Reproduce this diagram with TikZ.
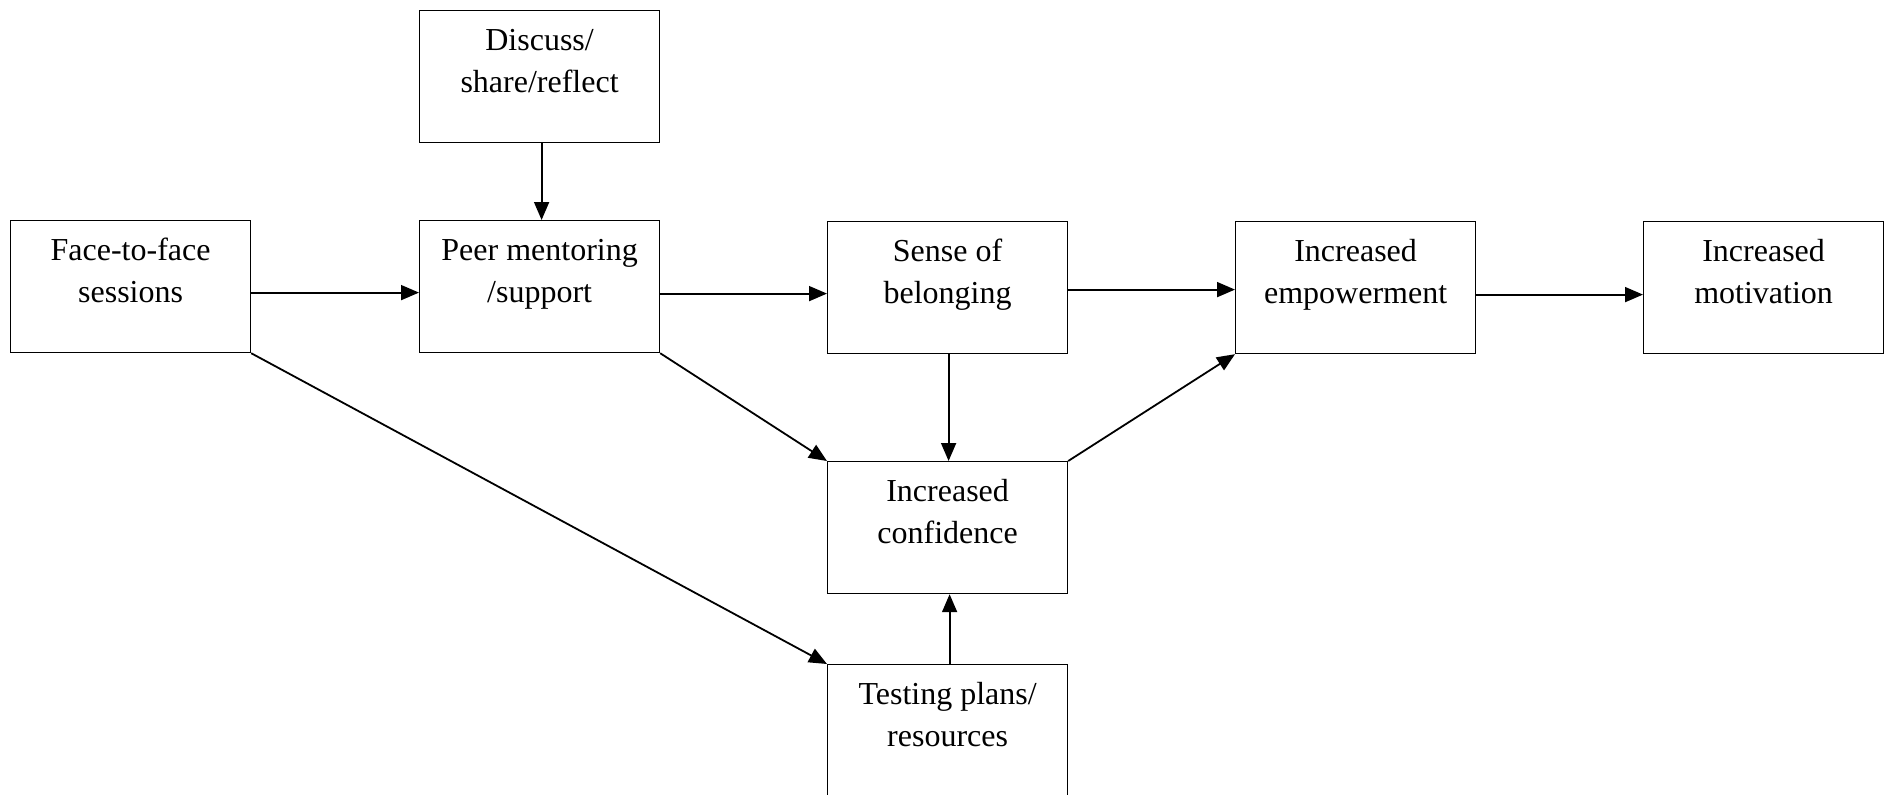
\documentclass[tikz,border=0pt]{standalone}
\usepackage{fontspec}
\setmainfont{Liberation Serif}
\usetikzlibrary{arrows.meta}
\tikzset{
  box/.style={draw, line width=1.2pt, rectangle, inner sep=0pt, anchor=north west},
  conn/.style={line width=1.8pt, -{Triangle[length=18pt,width=15pt]}}
}
\newcommand{\boxtext}[1]{\parbox[t][132pt][t]{240pt}{\centering\fontsize{32}{42}\selectfont\rule{0pt}{40pt}#1}}
\begin{document}
\begin{tikzpicture}[x=1pt,y=-1pt]
\useasboundingbox (0,0) rectangle (1885,795);
\clip (0,0) rectangle (1885,795);
\fill[white] (0,0) rectangle (1885,795);
\node[box] (face) at (10,220) {\boxtext{Face-to-face\\sessions}};
\node[box] (discuss) at (419,9.5) {\boxtext{Discuss/\\share/reflect}};
\node[box] (peer) at (419,220) {\boxtext{Peer mentoring\\/support}};
\node[box] (sense) at (827,221) {\boxtext{Sense of\\belonging}};
\node[box] (empower) at (1235,221) {\boxtext{Increased\\empowerment}};
\node[box] (motiv) at (1643,221) {\boxtext{Increased\\motivation}};
\node[box] (conf) at (827,461) {\boxtext{Increased\\confidence}};
\node[box] (test) at (827,664) {\boxtext{Testing plans/\\resources}};

\draw[conn] ([yshift=-6pt]face.east) -- ([yshift=-6pt]peer.west);
\draw[conn] ([yshift=-7pt]peer.east) -- ([yshift=-6pt]sense.west);
\draw[conn] ([yshift=-2pt]sense.east) -- ([yshift=-2pt]empower.west);
\draw[conn] ([yshift=-7pt]empower.east) -- ([yshift=-7pt]motiv.west);
\draw[conn] ([xshift=2pt]discuss.south) -- ([xshift=2pt]peer.north);
\draw[conn] ([xshift=1pt]sense.south) -- ([xshift=1pt]conf.north);
\draw[conn] ([xshift=2pt]test.north) -- ([xshift=2pt]conf.south);
\draw[conn] (peer.south east) -- (conf.north west);
\draw[conn] (face.south east) -- (test.north west);
\draw[conn] (conf.north east) -- (empower.south west);
\end{tikzpicture}
\end{document}
